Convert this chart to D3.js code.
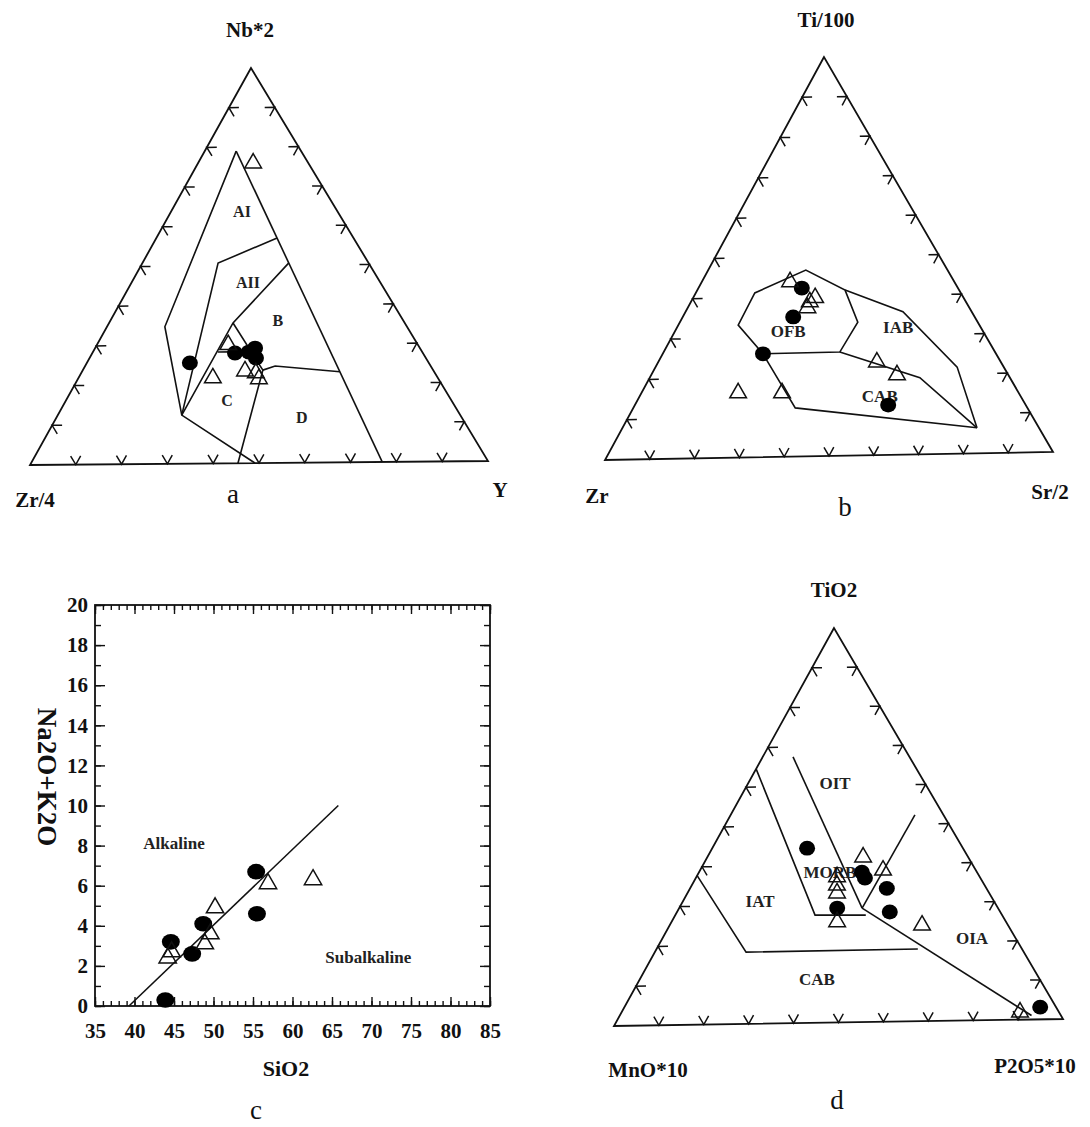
<!DOCTYPE html>
<html>
<head>
<meta charset="utf-8">
<script src="https://cdn.jsdelivr.net/npm/d3@7"></script>
<style>
  body { margin: 0; background: #fff; }
  svg { display: block; }
</style>
</head>
<body>
<svg id="chart" width="1090" height="1127"></svg>
<script>
// ---------------- DATA ----------------
// Ternary compositions are [top, left, right] in percent.

// Panel a: Nb*2 (top) – Zr/4 (left) – Y (right)
const aAxisNames = ["Nb*2", "Zr/4", "Y"];
const aFieldNames = ["AI", "AII", "B", "C", "D"];
const aFieldLabelPos = [[63.6,20.8,15.6],[45.8,28.7,25.5],[36.1,27.2,36.7],[16.0,48.7,35.3],[11.3,34.8,53.9]];
const aFieldLines = [
  [[79.0,14.1,6.9],[34.7,52.6,12.7],[12.3,60.5,27.2],[0,50.9,49.1]],
  [[79.0,14.1,6.9],[0,23.1,76.9]],
  [[56.9,16.6,26.5],[50.7,32.7,16.6],[12.3,60.5,27.2]],
  [[50.6,17.3,32.1],[35.5,37.3,27.2],[12.3,60.5,27.2]],
  [[35.5,37.3,27.2],[23.5,37.0,39.5],[0,54.6,45.4]],
  [[23.5,37.0,39.5],[24.5,33.8,41.7],[22.9,20.5,56.6]],
  [[28.2,44.4,27.4],[28.2,41.3,30.5]]
];
const aCircles = [[25.5,51.9,22.6],[27.9,40.8,31.3],[28.1,37.7,34.2],[29.1,35.8,35.1],[26.6,36.9,36.5]];
const aTriangles = [[75.9,12.0,12.1],[21.6,48.9,29.5],[23.3,41.0,35.7],[22.8,38.9,38.3],[21.3,39.0,39.7],[30.0,41.2,28.8]];

// Panel b: Ti/100 (top) – Zr (left) – Sr/2 (right)
const bAxisNames = ["Ti/100", "Zr", "Sr/2"];
const bFieldNames = ["OFB", "IAB", "CAB"];
const bFieldLabelPos = [[31.3,43.1,25.6],[31.8,18.3,49.9],[14.6,31.2,54.2]];
const bFieldLines = [
  [[25.9,51.5,22.6],[33.2,53.3,13.5],[41.2,45.5,13.3],[46.7,31.3,22.0],[41.5,25.2,33.3],[33.4,26.5,40.1],[26.0,34.3,39.7],[25.9,51.5,22.6]],
  [[41.5,25.2,33.3],[35.8,15.2,49.0],[21.7,10.3,68.0],[6.4,13.7,79.9]],
  [[26.0,34.3,39.7],[19.2,19.9,60.9],[6.4,13.7,79.9]],
  [[25.9,51.5,22.6],[12.2,51.3,36.5],[6.4,13.7,79.9]]
];
const bCircles = [[42.2,34.5,23.3],[35.0,40.1,24.9],[25.9,51.5,22.6],[12.5,30.4,57.1]];
const bTriangles = [[43.8,36.3,19.9],[39.7,32.8,27.5],[38.7,34.5,26.8],[37.2,35.8,27.0],[16.2,62.0,21.8],[16.0,52.3,31.7],[23.3,27.4,49.3],[20.0,24.6,55.4]];

// Panel c: SiO2 vs Na2O+K2O
const cXTicks = [35,40,45,50,55,60,65,70,75,80,85];
const cYTicks = [0,2,4,6,8,10,12,14,16,18,20];
const cBoundarySiO2 = [39.3, 65.8];
const cBoundaryAlk  = [0, 10.0];
const cCircleSiO2 = [55.4, 55.5, 48.7, 47.3, 44.6, 43.9];
const cCircleAlk  = [6.7, 4.6, 4.1, 2.6, 3.2, 0.3];
const cTriSiO2 = [56.9, 62.6, 50.2, 49.6, 48.9, 44.2, 44.7];
const cTriAlk  = [6.1, 6.3, 4.9, 3.6, 3.1, 2.4, 2.7];
const cFieldNames = ["Alkaline", "Subalkaline"];
const cFieldSiO2 = [45.0, 69.6];
const cFieldAlk  = [8.1, 2.4];

// Panel d: TiO2 (top) – MnO*10 (left) – P2O5*10 (right)
const dAxisNames = ["TiO2", "MnO*10", "P2O5*10"];
const dFieldNames = ["OIT", "MORB", "IAT", "OIA", "CAB"];
const dFieldLabelPos = [[60.5,19.9,19.6],[38.1,32.5,29.4],[30.9,51.7,17.4],[20.7,9.7,69.6],[11.0,49.2,39.8]];
const dFieldLines = [
  [[64.6,35.4,0],[27.3,41.3,31.4],[27.1,30.1,42.8]],
  [[67.5,25.7,6.8],[28.9,30.0,41.1]],
  [[28.9,30.0,41.1],[52.3,6.3,41.4]],
  [[28.9,30.0,41.1],[1.0,6.5,92.5]],
  [[37.8,62.2,0],[18.2,61.3,20.5],[18.3,23.0,58.7]]
];
const dCircles = [[44.3,34.4,21.3],[38.0,25.4,36.6],[36.5,25.5,38.0],[33.8,22.0,44.2],[27.8,24.4,47.8],[29.0,35.5,35.5],[3.1,3.5,93.4]];
const dTriangles = [[41.8,23.2,35.0],[38.4,20.5,41.1],[24.3,19.0,56.7],[36.9,31.5,31.6],[34.8,32.6,32.6],[32.8,33.6,33.6],[25.5,37.3,37.2],[1.9,8.6,89.5]];

const tickFractions = [10,20,30,40,50,60,70,80,90];

// ---------------- DRAWING ----------------
const FONT = '"Liberation Serif","Times New Roman",Times,serif';
const INK = "#111";
const svg = d3.select("#chart");
svg.append("rect").attr("width",1090).attr("height",1127).attr("fill","#fff");

function makeTernary(A, L, R) {
  const sxR = d3.scaleLinear().domain([0,100]).range([0, R[0]-L[0]]);
  const syR = d3.scaleLinear().domain([0,100]).range([0, R[1]-L[1]]);
  const sxT = d3.scaleLinear().domain([0,100]).range([0, A[0]-L[0]]);
  const syT = d3.scaleLinear().domain([0,100]).range([0, A[1]-L[1]]);
  return p => {
    const s = p[0] + p[1] + p[2];
    const t = p[0] * 100 / s, r = p[2] * 100 / s;
    return [L[0] + sxR(r) + sxT(t), L[1] + syR(r) + syT(t)];
  };
}
function unit(a, b) { const dx = b[0]-a[0], dy = b[1]-a[1], n = Math.hypot(dx,dy); return [dx/n, dy/n]; }

function drawTernary(cfg) {
  const g = svg.append("g");
  const T = makeTernary(cfg.A, cfg.L, cfg.R);
  const A = T([100,0,0]), L = T([0,100,0]), R = T([0,0,100]);
  const line = d3.line();
  g.append("path").attr("d", line([A,L,R]) + "Z")
    .attr("fill","none").attr("stroke",INK).attr("stroke-width",1.8).attr("stroke-linejoin","miter");
  const len = 10;
  const uAL = unit(L,A), uAR = unit(R,A), uLR = unit(L,R), uRL = unit(R,L), uAtoR = unit(A,R), uAtoL = unit(A,L);
  const tickPaths = [];
  tickFractions.forEach(k => {
    let P = T([0,100-k,k]);
    tickPaths.push([[P[0]+len*uAL[0],P[1]+len*uAL[1]],P,[P[0]+len*uAR[0],P[1]+len*uAR[1]]]);
    P = T([k,100-k,0]);
    tickPaths.push([[P[0]+len*uLR[0],P[1]+len*uLR[1]],P,[P[0]+len*uAtoR[0],P[1]+len*uAtoR[1]]]);
    P = T([k,0,100-k]);
    tickPaths.push([[P[0]+len*uRL[0],P[1]+len*uRL[1]],P,[P[0]+len*uAtoL[0],P[1]+len*uAtoL[1]]]);
  });
  g.selectAll("path.tick").data(tickPaths).join("path").attr("class","tick")
    .attr("d", d => line(d)).attr("fill","none").attr("stroke",INK).attr("stroke-width",1.5);
  g.selectAll("path.field").data(cfg.lines).join("path").attr("class","field")
    .attr("d", d => line(d.map(T))).attr("fill","none").attr("stroke",INK).attr("stroke-width",1.6);
  g.selectAll("text.field").data(cfg.fieldNames).join("text").attr("class","field")
    .attr("x", (d,i) => T(cfg.fieldPos[i])[0]).attr("y", (d,i) => T(cfg.fieldPos[i])[1])
    .attr("text-anchor","middle").attr("dominant-baseline","central")
    .attr("font-family",FONT).attr("font-weight","bold").attr("font-size",cfg.fieldFont)
    .attr("fill","#222").text(d => d);
  g.selectAll("ellipse.pt").data(cfg.circles).join("ellipse").attr("class","pt")
    .attr("cx", d => T(d)[0]).attr("cy", d => T(d)[1]).attr("rx", 8).attr("ry", 7.4).attr("fill","#000");
  const tri = d3.symbol(d3.symbolTriangle, 120);
  g.selectAll("path.tri").data(cfg.triangles).join("path").attr("class","tri")
    .attr("transform", d => `translate(${T(d)[0]},${T(d)[1]})`).attr("d", tri())
    .attr("fill","none").attr("stroke",INK).attr("stroke-width",1.5);
  cfg.namePos.forEach((p,i) => {
    g.append("text").attr("x",p[0]).attr("y",p[1]).attr("text-anchor","middle").attr("dominant-baseline","central")
      .attr("font-family",FONT).attr("font-weight","bold").attr("font-size",21).attr("fill",INK).text(cfg.names[i]);
  });
  g.append("text").attr("x",cfg.letterPos[0]).attr("y",cfg.letterPos[1]).attr("text-anchor","middle").attr("dominant-baseline","central")
    .attr("font-family",FONT).attr("font-size",27).attr("fill",INK).text(cfg.letter);
}

drawTernary({A:[251,68], L:[30,465], R:[488,461], lines:aFieldLines, fieldNames:aFieldNames, fieldPos:aFieldLabelPos,
  fieldFont:16, circles:aCircles, triangles:aTriangles, names:aAxisNames,
  namePos:[[250,30],[35,500],[500,490]], letter:"a", letterPos:[233,494]});

drawTernary({A:[824,57], L:[605,460], R:[1053,452], lines:bFieldLines, fieldNames:bFieldNames, fieldPos:bFieldLabelPos,
  fieldFont:17, circles:bCircles, triangles:bTriangles, names:bAxisNames,
  namePos:[[826,20],[597,496],[1050,492]], letter:"b", letterPos:[845,507]});

drawTernary({A:[834,628], L:[614,1026], R:[1063,1019], lines:dFieldLines, fieldNames:dFieldNames, fieldPos:dFieldLabelPos,
  fieldFont:17, circles:dCircles, triangles:dTriangles, names:dAxisNames,
  namePos:[[834,590],[648,1070],[1035,1066]], letter:"d", letterPos:[837,1100]});

// ---------------- Panel c ----------------
(function(){
  const g = svg.append("g");
  const x = d3.scaleLinear().domain([35,85]).range([95,490]);
  const y = d3.scaleLinear().domain([0,20]).range([1006,605]);
  const minorX = d3.range(35,86,1), minorY = d3.range(0,21,1);
  const styleAxis = sel => {
    sel.select(".domain").remove();
    sel.selectAll("line").attr("stroke",INK).attr("stroke-width",1.4);
    sel.selectAll("text").attr("font-family",FONT).attr("font-weight","bold").attr("font-size",21).attr("fill",INK);
  };
  g.append("g").attr("transform","translate(0,1006)")
    .call(d3.axisBottom(x).tickValues(minorX).tickSizeInner(-5).tickSizeOuter(0).tickFormat(""))
    .call(styleAxis);
  g.append("g").attr("transform","translate(0,1006)")
    .call(d3.axisBottom(x).tickValues(cXTicks).tickSizeInner(-9).tickSizeOuter(0).tickPadding(17).tickFormat(d3.format("d")))
    .call(styleAxis);
  g.append("g").attr("transform","translate(0,605)")
    .call(d3.axisTop(x).tickValues(minorX).tickSizeInner(-5).tickSizeOuter(0).tickFormat(""))
    .call(styleAxis);
  g.append("g").attr("transform","translate(0,605)")
    .call(d3.axisTop(x).tickValues(cXTicks).tickSizeInner(-9).tickSizeOuter(0).tickFormat(""))
    .call(styleAxis);
  g.append("g").attr("transform","translate(95,0)")
    .call(d3.axisLeft(y).tickValues(minorY).tickSizeInner(-6).tickSizeOuter(0).tickFormat(""))
    .call(styleAxis);
  g.append("g").attr("transform","translate(95,0)")
    .call(d3.axisLeft(y).tickValues(cYTicks).tickSizeInner(-10).tickSizeOuter(0).tickPadding(7).tickFormat(d3.format("d")))
    .call(styleAxis);
  g.append("g").attr("transform","translate(490,0)")
    .call(d3.axisRight(y).tickValues(minorY).tickSizeInner(-6).tickSizeOuter(0).tickFormat(""))
    .call(styleAxis);
  g.append("g").attr("transform","translate(490,0)")
    .call(d3.axisRight(y).tickValues(cYTicks).tickSizeInner(-10).tickSizeOuter(0).tickFormat(""))
    .call(styleAxis);
  g.append("rect").attr("x",95).attr("y",605).attr("width",395).attr("height",401)
    .attr("fill","none").attr("stroke",INK).attr("stroke-width",1.8);

  g.append("path").attr("d", d3.line().x(d => x(d[0])).y(d => y(d[1]))(d3.zip(cBoundarySiO2, cBoundaryAlk)))
    .attr("fill","none").attr("stroke",INK).attr("stroke-width",1.6);

  g.selectAll("text.field").data(cFieldNames).join("text").attr("class","field")
    .attr("x",(d,i)=>x(cFieldSiO2[i])).attr("y",(d,i)=>y(cFieldAlk[i]))
    .attr("text-anchor","middle").attr("dominant-baseline","central")
    .attr("font-family",FONT).attr("font-weight","bold").attr("font-size",17).attr("fill","#222").text(d=>d);

  g.selectAll("ellipse.pt").data(d3.zip(cCircleSiO2, cCircleAlk)).join("ellipse").attr("class","pt")
    .attr("cx", d => x(d[0])).attr("cy", d => y(d[1])).attr("rx", 9).attr("ry", 7.8).attr("fill","#000");
  const tri = d3.symbol(d3.symbolTriangle, 130);
  g.selectAll("path.tri").data(d3.zip(cTriSiO2, cTriAlk)).join("path").attr("class","tri")
    .attr("transform", d => `translate(${x(d[0])},${y(d[1])})`).attr("d", tri())
    .attr("fill","none").attr("stroke",INK).attr("stroke-width",1.5);

  g.append("text").attr("x",286).attr("y",1068).attr("text-anchor","middle").attr("dominant-baseline","central")
    .attr("font-family",FONT).attr("font-weight","bold").attr("font-size",22).attr("fill",INK).text("SiO2");
  g.append("text").attr("transform","translate(47,777) rotate(90)").attr("text-anchor","middle").attr("dominant-baseline","central")
    .attr("font-family",FONT).attr("font-weight","bold").attr("font-size",27).attr("fill",INK).text("Na2O+K2O");
  g.append("text").attr("x",256).attr("y",1110).attr("text-anchor","middle").attr("dominant-baseline","central")
    .attr("font-family",FONT).attr("font-size",27).attr("fill",INK).text("c");
})();
</script>
</body>
</html>
